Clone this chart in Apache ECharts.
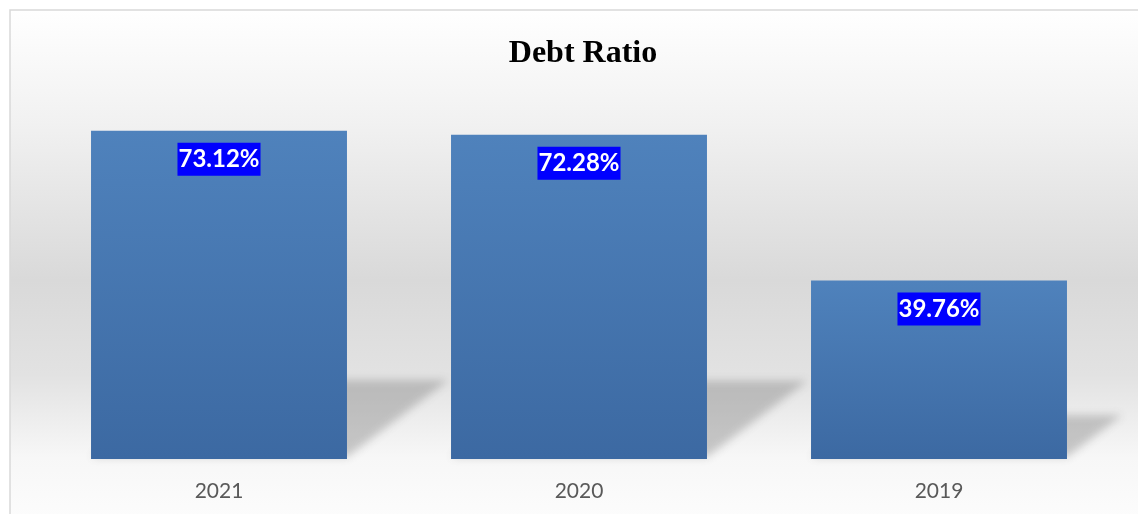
<!DOCTYPE html>
<html>
<head>
<meta charset="utf-8">
<script src="https://cdn.jsdelivr.net/npm/echarts@6/dist/echarts.min.js"></script>
<style>
html,body{margin:0;padding:0;background:#ffffff;}
#chart{width:1138px;height:514px;}
</style>
</head>
<body>
<div id="chart"></div>
<script>
var categories = ['2021', '2020', '2019'];
var debtRatio = [73.12, 72.28, 39.76];
var titleText = 'Debt Ratio';

var chart = echarts.init(document.getElementById('chart'));

var OFF = 3000;
function renderShadow(params, api) {
  var idx = api.value(0);
  var val = api.value(1);
  var top = api.coord([idx, val]);
  var base = api.coord([idx, 0]);
  var bw = api.size([1, 0])[0] * 0.711;
  var x0 = top[0] - bw / 2;
  var x1 = top[0] + bw / 2;
  var h = base[1] - top[1];
  var dx = 0.31 * h;
  var dy = 0.235 * h;
  var by = base[1] - 2;
  return {
    type: 'polygon',
    shape: {
      points: [[x0 - OFF, by], [x1 - OFF, by], [x1 + dx - OFF, by - dy], [x0 + dx - OFF, by - dy]]
    },
    style: {
      fill: '#888888',
      shadowColor: 'rgba(95,95,95,0.32)',
      shadowBlur: 9,
      shadowOffsetX: OFF,
      shadowOffsetY: 0
    }
  };
}

var option = {
  animation: false,
  backgroundColor: '#ffffff',
  graphic: [{
    type: 'rect',
    z: -10,
    shape: { x: 10, y: 10, width: 1140, height: 520 },
    style: {
      stroke: '#d9d9d9',
      lineWidth: 1.5,
      fill: {
        type: 'linear', x: 0, y: 0, x2: 0, y2: 1,
        colorStops: [
          { offset: 0, color: '#ffffff' },
          { offset: 0.22, color: '#f1f1f1' },
          { offset: 0.52, color: '#d9d9d9' },
          { offset: 0.70, color: '#e2e2e2' },
          { offset: 0.86, color: '#f7f7f7' },
          { offset: 1, color: '#fdfdfd' }
        ]
      }
    }
  }],
  title: {
    text: titleText,
    left: 578,
    textAlign: 'center',
    top: 33,
    textStyle: {
      fontFamily: 'Liberation Serif',
      fontWeight: 'bold',
      fontSize: 32,
      lineHeight: 32,
      color: '#000000'
    }
  },
  grid: { left: 39, right: 19, top: 100, bottom: 55 },
  xAxis: {
    type: 'category',
    data: categories,
    axisLine: { show: false },
    axisTick: { show: false },
    axisLabel: {
      margin: 22,
      fontFamily: 'Lato',
      fontSize: 21,
      color: '#595959'
    }
  },
  yAxis: {
    type: 'value',
    min: 0,
    max: 80,
    show: false,
    splitLine: { show: false }
  },
  series: [{
    type: 'custom',
    z: 1,
    clip: false,
    renderItem: renderShadow,
    data: debtRatio.map(function (v, i) { return [i, v]; }),
    silent: true
  }, {
    type: 'bar',
    z: 3,
    barWidth: '71.1%',
    data: debtRatio,
    itemStyle: {
      color: {
        type: 'linear', x: 0, y: 0, x2: 0, y2: 1,
        colorStops: [
          { offset: 0, color: '#4f82bc' },
          { offset: 1, color: '#3c69a2' }
        ]
      }
    },
    label: {
      show: true,
      position: 'insideTop',
      distance: 12,
      formatter: function (p) { return p.value.toFixed(2) + '%'; },
      fontFamily: 'Lato',
      fontWeight: 'bold',
      fontSize: 24,
      lineHeight: 27,
      color: '#ffffff',
      backgroundColor: '#0000ff',
      padding: [3, 1, 3, 1]
    }
  }]
};
chart.setOption(option);
</script>
</body>
</html>
